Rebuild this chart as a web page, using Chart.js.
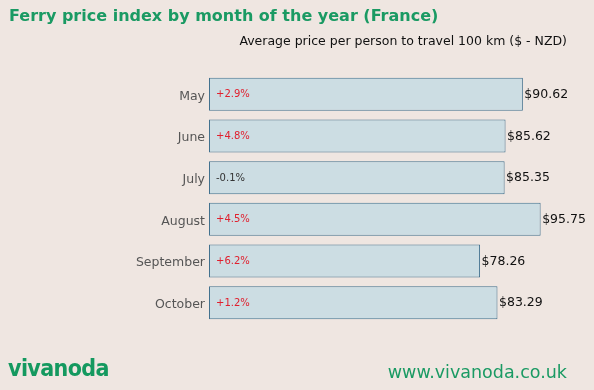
<!DOCTYPE html>
<html><head><meta charset="utf-8">
<script src="https://cdn.jsdelivr.net/npm/chart.js@4/dist/chart.umd.min.js"></script>
<style>
html,body{margin:0;padding:0;background:#efe6e1;}
#wrap{position:relative;width:594px;height:390px;overflow:hidden;font-family:"DejaVu Sans",sans-serif;}
#title{position:absolute;left:9px;top:6px;font-size:16px;font-weight:bold;color:#1a9a63;white-space:nowrap;}
#sub{position:absolute;right:27px;top:33px;font-size:12.5px;color:#111;white-space:nowrap;}
#logo{position:absolute;left:8px;top:355px;font-family:"DejaVu Sans Condensed","DejaVu Sans",sans-serif;font-weight:bold;font-size:23px;color:#14995f;letter-spacing:-0.6px;white-space:nowrap;}
#url{position:absolute;right:27px;top:362px;font-size:17.5px;color:#1a9a63;white-space:nowrap;}
canvas{position:absolute;left:0;top:0;}
</style></head>
<body><div id="wrap">
<canvas id="c" width="594" height="390"></canvas>
<div id="title">Ferry price index by month of the year (France)</div>
<div id="sub">Average price per person to travel 100 km ($ - NZD)</div>
<div id="logo">vivanoda</div>
<div id="url">www.vivanoda.co.uk</div>
</div>
<script>
const months = ["May","June","July","August","September","October"];
const prices = [90.62, 85.62, 85.35, 95.75, 78.26, 83.29];
const changes = ["+2.9%","+4.8%","-0.1%","+4.5%","+6.2%","+1.2%"];

const labelPlugin = {
  id:'labels',
  afterDatasetsDraw(chart){
    const ctx = chart.ctx;
    const meta = chart.getDatasetMeta(0);
    ctx.save();
    ctx.textBaseline='middle';
    meta.data.forEach((bar,i)=>{
      ctx.font='12.5px "DejaVu Sans", sans-serif';
      ctx.fillStyle='#111';
      ctx.textAlign='left';
      ctx.fillText('$'+prices[i].toFixed(2), bar.x+1.5, bar.y+0.5);
      ctx.font='10px "DejaVu Sans", sans-serif';
      ctx.fillStyle = changes[i].startsWith('-') ? '#333333' : '#e0202e';
      ctx.fillText(changes[i], bar.base+7, bar.y+0.5);
    });
    ctx.restore();
  }
};

new Chart(document.getElementById('c'),{
  type:'bar',
  data:{labels:months,datasets:[{data:prices,backgroundColor:'#ccdde3',borderColor:'#42718e',borderWidth:1,borderSkipped:false,barPercentage:0.8,categoryPercentage:0.99}]},
  options:{
    indexAxis:'y',responsive:false,animation:false,
    layout:{padding:{left:0,right:4,top:73.5,bottom:66.5}},
    plugins:{legend:{display:false},tooltip:{enabled:false}},
    scales:{
      x:{display:false,min:0,max:110},
      y:{grid:{display:false},border:{display:false},
         afterFit(s){s.width=209;},
         ticks:{padding:-4,labelOffset:2,color:'#555',font:{family:'"DejaVu Sans", sans-serif',size:12.5}}}
    }
  },
  plugins:[labelPlugin]
});
</script>
</body></html>
